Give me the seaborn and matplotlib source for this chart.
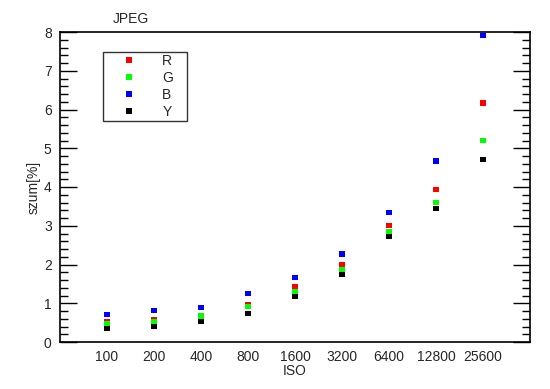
import pandas as pd
import matplotlib
matplotlib.use('Agg')
import matplotlib.pyplot as plt
import seaborn as sns
from matplotlib.ticker import MultipleLocator

iso = ['100', '200', '400', '800', '1600', '3200', '6400', '12800', '25600']
r_vals = [0.53, 0.59, 0.69, 0.97, 1.42, 2.01, 3.01, 3.94, 6.17]
g_vals = [0.48, 0.53, 0.67, 0.92, 1.31, 1.88, 2.85, 3.61, 5.19]
b_vals = [0.71, 0.82, 0.90, 1.26, 1.67, 2.27, 3.35, 4.67, 7.92]
y_vals = [0.35, 0.40, 0.53, 0.74, 1.18, 1.75, 2.73, 3.45, 4.72]

channels = ['R', 'G', 'B', 'Y']
colors = ['#ff0000', '#00ff00', '#0000ff', '#000000']

df = pd.DataFrame({
    'ISO': iso * 4,
    'szum': r_vals + g_vals + b_vals + y_vals,
    'kanal': sum([[c] * len(iso) for c in channels], []),
})

sns.set_style('white')
plt.rcParams['font.family'] = ['Liberation Sans', 'DejaVu Sans']

fig = plt.figure(figsize=(5.5, 3.89), dpi=100)
ax = fig.add_axes([60 / 550, 1 - 342 / 389, 470 / 550, 310 / 389])

sns.scatterplot(data=df, x='ISO', y='szum', hue='kanal', palette=colors,
                hue_order=channels, marker='s', s=14, linewidth=0, ax=ax)

ax.set_xlim(-1, 9)
ax.set_ylim(0, 8)
ax.yaxis.set_major_locator(MultipleLocator(1))
ax.yaxis.set_minor_locator(MultipleLocator(0.2))
ax.tick_params(axis='y', which='major', direction='in', length=12, width=1,
               left=True, right=True, labelsize=10, pad=6, color='black')
ax.tick_params(axis='y', which='minor', direction='in', length=6, width=1,
               left=True, right=True, color='black')
ax.tick_params(axis='x', length=0, labelsize=10, pad=6)
for sp in ax.spines.values():
    sp.set_color('black')
    sp.set_linewidth(1.2)

ax.set_xlabel('ISO', fontsize=10, labelpad=0)
ax.set_ylabel('szum[%]', fontsize=10, labelpad=2)
ax.text(0.15, 1.018, 'JPEG', transform=ax.transAxes, ha='center',
        va='bottom', fontsize=10)

# legend box: x 103..187 px, y 52..120 px
handles, labels = ax.get_legend_handles_labels()
leg = ax.legend(handles, labels, loc='upper left',
                bbox_to_anchor=(0.092, 0.716, 0.179, 0.219), mode='expand',
                borderaxespad=0, frameon=True, fancybox=False, edgecolor='black',
                handletextpad=0.66, labelspacing=0.2, borderpad=0.15,
                fontsize=10, markerscale=1.0, handlelength=3.44)
leg.get_frame().set_linewidth(1.0)

fig.savefig('out.png', dpi=100)
